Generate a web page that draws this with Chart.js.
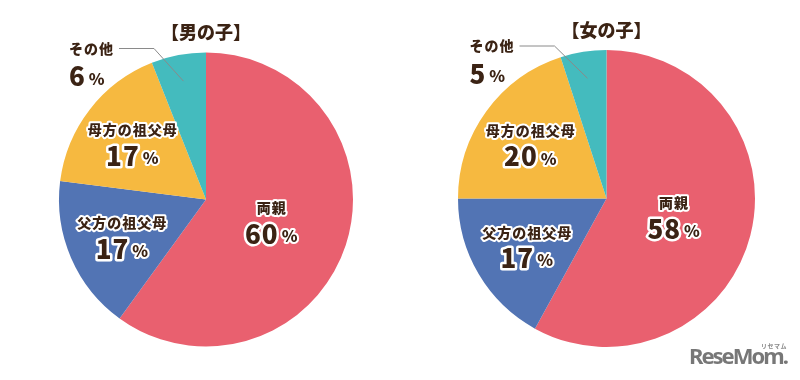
<!DOCTYPE html>
<html lang="ja">
<head>
<meta charset="utf-8">
<script src="https://cdn.jsdelivr.net/npm/chart.js@4"></script>
<style>
    html, body { margin: 0; padding: 0; background: #fff; }
    #wrap { position: relative; width: 800px; height: 380px; overflow: hidden; }
    #wrap canvas { position: absolute; top: 0; }
    #boysChart { left: 0; }
    #girlsChart { left: 400px; }
    #logo {
        position: absolute; left: 689px; top: 340px;
        font: bold 22px "Noto Sans", sans-serif; color: #777;
        letter-spacing: -2px; white-space: nowrap;
    }
    #logoKana {
        position: absolute; left: 761px; top: 341px;
        font: bold 6px "Noto Sans CJK JP", sans-serif; color: #8a8a8a;
        letter-spacing: 0.5px;
    }
</style>
</head>
<body>
<div id="wrap">
    <canvas id="boysChart" width="400" height="380"></canvas>
    <canvas id="girlsChart" width="400" height="380"></canvas>
    <div id="logo">ReseMom.</div>
    <div id="logoKana">リセマム</div>
</div>
<script>
const categories = ["両親", "父方の祖父母", "母方の祖父母", "その他"];
const boysValues = [60, 17, 17, 6];
const girlsValues = [58, 17, 20, 5];
const chartTitles = ["【男の子】", "【女の子】"];

const sliceColors = ["#E9606F", "#5274B4", "#F6B940", "#44BBBE"];
const textColor = "#3B2314";
const fontJP = "'Noto Sans CJK JP', sans-serif";

// labels drawn inside the slices, "その他" goes outside with a leader line
const pieLabels = {
    id: "pieLabels",
    afterDatasetsDraw(chart, args, opts) {
        const ctx = chart.ctx;
        const arcs = chart.getDatasetMeta(0).data;
        const values = chart.data.datasets[0].data;
        const names = chart.data.labels;
        const cx = arcs[0].x, cy = arcs[0].y, r = arcs[0].outerRadius;

        ctx.save();
        ctx.textBaseline = "middle";
        ctx.lineJoin = "round";

        ctx.font = "900 18px " + fontJP;
        ctx.fillStyle = textColor;
        ctx.textAlign = "center";
        ctx.fillText(opts.title, cx, cy - r - 20);

        arcs.forEach((arc, i) => {
            const mid = (arc.startAngle + arc.endAngle) / 2;
            if (i === arcs.length - 1) {
                const px = cx + Math.cos(mid) * r * 0.82;
                const py = cy + Math.sin(mid) * r * 0.82;
                const ly = cy - r - 4;
                ctx.strokeStyle = "#8a8a8a";
                ctx.lineWidth = 1;
                ctx.beginPath();
                ctx.moveTo(cx - 87, ly);
                ctx.lineTo(cx - 52, ly);
                ctx.lineTo(px, py);
                ctx.stroke();
                drawLabel(ctx, names[i], values[i], cx - 137, ly, cy - r + 24, "left");
            } else {
                const f = opts.radius[i];
                const px = cx + Math.cos(mid) * r * f;
                const py = cy + Math.sin(mid) * r * f;
                drawLabel(ctx, names[i], values[i], px, py - 13, py + 13, "center");
            }
        });
        ctx.restore();
    }
};

function drawLabel(ctx, name, value, x, nameY, valueY, align) {
    ctx.fillStyle = textColor;
    ctx.strokeStyle = "#fff";
    ctx.lineWidth = 4;
    ctx.letterSpacing = "1px";
    ctx.font = "900 14px " + fontJP;
    const nw = ctx.measureText(name).width;
    const nx = align === "center" ? x - nw / 2 : x;
    ctx.textAlign = "left";
    ctx.strokeText(name, nx, nameY);
    ctx.fillText(name, nx, nameY);

    ctx.letterSpacing = "1px";
    const num = String(value);
    ctx.font = "900 26px " + fontJP;
    const w1 = ctx.measureText(num).width;
    ctx.font = "900 16px " + fontJP;
    const w2 = ctx.measureText("%").width;
    const total = w1 + 3 + w2;
    const vx = align === "center" ? x - total / 2 : x;
    ctx.font = "900 26px " + fontJP;
    ctx.lineWidth = 5;
    ctx.strokeText(num, vx, valueY);
    ctx.fillText(num, vx, valueY);
    ctx.font = "900 16px " + fontJP;
    ctx.lineWidth = 4;
    ctx.strokeText("%", vx + w1 + 3, valueY + 2);
    ctx.fillText("%", vx + w1 + 3, valueY + 2);
}

function makePie(id, values, title, padding) {
    const ctx = document.getElementById(id).getContext("2d");
    return new Chart(ctx, {
        type: "pie",
        data: {
            labels: categories,
            datasets: [
                {
                    data: values,
                    backgroundColor: sliceColors,
                    borderWidth: 0,
                },
            ],
        },
        options: {
            responsive: false,
            animation: false,
            layout: { padding: padding },
            plugins: {
                legend: { display: false },
                tooltip: { enabled: false },
                pieLabels: { title: title, radius: [0.47, 0.62, 0.63] },
            },
        },
        plugins: [pieLabels],
    });
}

makePie("boysChart", boysValues, chartTitles[0], { left: 59, right: 47, top: 52, bottom: 33 });
makePie("girlsChart", girlsValues, chartTitles[1], { left: 58, right: 45, top: 50, bottom: 33 });
</script>
</body>
</html>
